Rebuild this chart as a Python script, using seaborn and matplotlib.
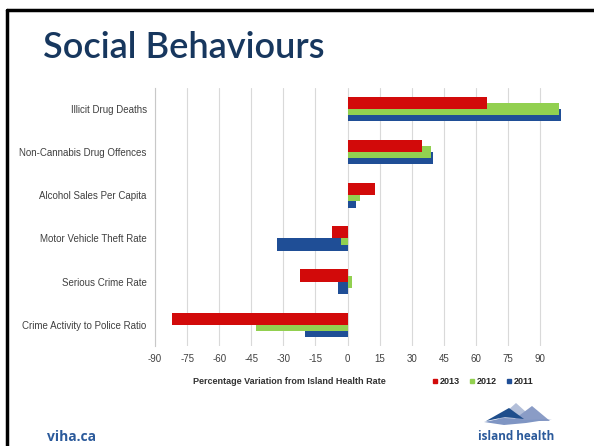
import matplotlib
matplotlib.use("Agg")
import matplotlib.pyplot as plt
from matplotlib.lines import Line2D
from matplotlib.patches import Polygon
import numpy as np
import pandas as pd
import seaborn as sns

# Indicators (top to bottom) and % variation from the Island Health rate
categories = [
    "Illicit Drug Deaths",
    "Non-Cannabis Drug Offences",
    "Alcohol Sales Per Capita",
    "Motor Vehicle Theft Rate",
    "Serious Crime Rate",
    "Crime Activity to Police Ratio",
]
years = ["2013", "2012", "2011"]
values_2013 = [65, 35, 13, -7.5, -22, -82]
values_2012 = [99, 39, 6, -3, 2, -43]
values_2011 = [100, 40, 4, -33, -4.5, -20]
x_ticks = list(range(-90, 91, 15))

colors = {"2013": "#D20A0A", "2012": "#92D050", "2011": "#1F4E96"}
offsets = {"2013": -0.14, "2012": 0.0, "2011": 0.14}

rows = []
for yr, vals in zip(years, [values_2013, values_2012, values_2011]):
    for i, (cat, v) in enumerate(zip(categories, vals)):
        rows.append({"year": yr, "category": cat, "pos": i + offsets[yr], "value": v})
df = pd.DataFrame(rows)

sns.set_theme(style="white")
plt.rcParams["font.family"] = ["Liberation Sans", "DejaVu Sans"]

fig = plt.figure(figsize=(5.94, 4.46), dpi=100)
ax = fig.add_axes([0.261, 0.224, 0.695, 0.579])

# draw 2011 first so later years overlap it
for yr in ["2011", "2012", "2013"]:
    sub = df[df["year"] == yr]
    sns.barplot(data=sub, x="value", y="pos", orient="y", native_scale=True,
                width=0.28, color=colors[yr], errorbar=None, ax=ax,
                saturation=1, linewidth=0, zorder=3)

ax.set_xlim(-90, 103)
ax.set_ylim(5.5, -0.5)
ax.set_xticks(x_ticks)
ax.set_xticklabels([str(t) for t in x_ticks], fontsize=7, color="#404040")
ax.set_yticks(range(len(categories)))
ax.set_yticklabels(categories, fontsize=7, color="#404040")
ax.tick_params(axis="both", length=0, pad=6)
ax.set_xlabel("")
ax.set_ylabel("")
for t in x_ticks:
    ax.axvline(t, color="#D9D9D9", linewidth=0.8, zorder=0)
for side in ["top", "right", "bottom"]:
    ax.spines[side].set_visible(False)
ax.spines["left"].set_color("#C8C8C8")
ax.spines["left"].set_linewidth(0.8)

# axis caption and legend row
fig.text(289 / 594, 1 - 382 / 446, "Percentage Variation from Island Health Rate",
         ha="center", va="center", fontsize=6.5, fontweight="bold", color="#333333")
handles = [Line2D([], [], marker="s", linestyle="none", markersize=3,
                  color=colors[yr], label=yr) for yr in years]
fig.legend(handles=handles, loc="center", bbox_to_anchor=(482 / 594, 1 - 382 / 446),
           ncol=3, frameon=False, handletextpad=0.0, handlelength=1.0,
           columnspacing=0.9, prop={"weight": "bold", "size": 6.5})

# slide title and frame
fig.text(43 / 594, 1 - 57.5 / 446, "Social Behaviours", ha="left", va="baseline",
         fontsize=26, fontweight="semibold", color="#17375E", family=["Lato", "DejaVu Sans"])
fig.add_artist(Line2D([7 / 594, 7 / 594], [0, 1 - 10 / 446], transform=fig.transFigure,
                      color="black", linewidth=2.5))
fig.add_artist(Line2D([7 / 594, 1], [1 - 10 / 446, 1 - 10 / 446], transform=fig.transFigure,
                      color="black", linewidth=2.5))

# footer
fig.text(47 / 594, 1 - 437 / 446, "viha.ca", ha="left", va="center",
         fontsize=10, fontweight="bold", color="#2B5A9B", family=["Open Sans", "DejaVu Sans"])


def fpt(x, y):
    return (x / 594, 1 - y / 446)


# island health mark
fig.add_artist(Polygon([fpt(496, 421), fpt(516, 403), fpt(536, 421)], closed=True,
                       transform=fig.transFigure, color="#B3BFD9", lw=0))
fig.add_artist(Polygon([fpt(512, 421), fpt(532, 406), fpt(550, 421)], closed=True,
                       transform=fig.transFigure, color="#8A9CC6", lw=0))
fig.add_artist(Polygon([fpt(486, 421), fpt(509, 408), fpt(524, 419), fpt(505, 417)], closed=True,
                       transform=fig.transFigure, color="#1F4E8C", lw=0))
fig.add_artist(Polygon([fpt(484, 422), fpt(504, 418), fpt(526, 420), fpt(552, 419),
                        fpt(526, 423), fpt(504, 425)], closed=True,
                       transform=fig.transFigure, color="#7F95C3", lw=0))
fig.text(516 / 594, 1 - 436 / 446, "island health", ha="center", va="center",
         fontsize=8.5, fontweight="bold", color="#2B5A9B", family=["Open Sans", "DejaVu Sans"])

fig.savefig("out.png", dpi=100, facecolor="white")
